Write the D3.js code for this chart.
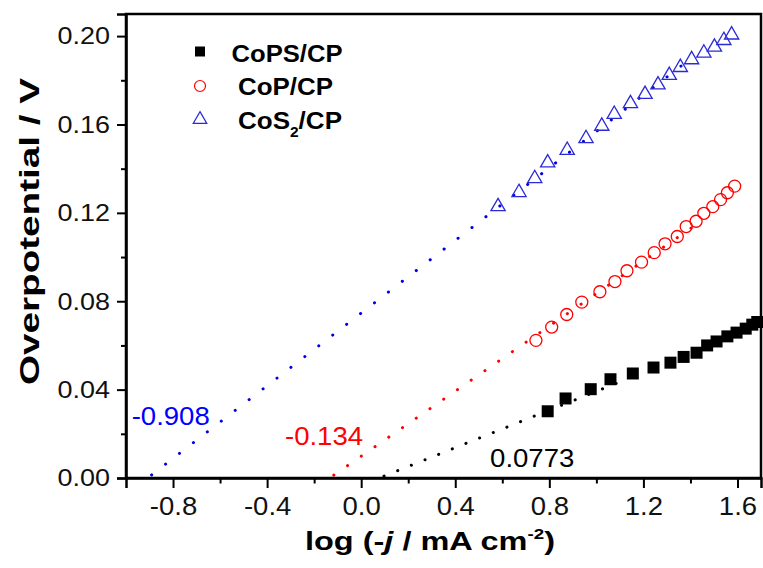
<!DOCTYPE html>
<html>
<head>
<meta charset="utf-8">
<script src="https://cdn.jsdelivr.net/npm/d3@7"></script>
<style>
  body { margin: 0; background: #fff; }
  svg { display: block; font-family: "Liberation Sans", Arial, sans-serif; }
</style>
</head>
<body>
<svg id="chart" width="763" height="568"></svg>
<script>
// tick labels
const xTicks = [-0.8, -0.4, 0.0, 0.4, 0.8, 1.2, 1.6];
const xMinor = [-0.6, -0.2, 0.2, 0.6, 1.0, 1.4];
const yTicks = [0.00, 0.04, 0.08, 0.12, 0.16, 0.20];
const yMinor = [0.02, 0.06, 0.10, 0.14, 0.18];

// CoPS/CP (black squares)
const copsX = [0.793, 0.869, 0.976, 1.060, 1.155, 1.243, 1.315, 1.371, 1.426, 1.471, 1.511, 1.557, 1.596, 1.635, 1.663, 1.684];
const copsY = [0.0302, 0.0360, 0.0402, 0.0447, 0.0473, 0.0500, 0.0522, 0.0548, 0.0567, 0.0600, 0.0618, 0.0641, 0.0658, 0.0676, 0.0694, 0.0706];

// CoP/CP (red circles)
const copX = [0.743, 0.810, 0.874, 0.938, 1.015, 1.079, 1.130, 1.192, 1.246, 1.292, 1.344, 1.382, 1.424, 1.457, 1.495, 1.528, 1.557, 1.588];
const copY = [0.0623, 0.0683, 0.0740, 0.0796, 0.0843, 0.0889, 0.0938, 0.0977, 0.1020, 0.1060, 0.1093, 0.1138, 0.1162, 0.1198, 0.1228, 0.1260, 0.1291, 0.1321];

// CoS2/CP (blue triangles)
const cos2X = [0.582, 0.671, 0.738, 0.793, 0.876, 0.956, 1.023, 1.076, 1.145, 1.207, 1.262, 1.310, 1.357, 1.405, 1.457, 1.502, 1.542, 1.575];
const cos2Y = [0.1233, 0.1297, 0.1360, 0.1431, 0.1488, 0.1541, 0.1597, 0.1651, 0.1699, 0.1741, 0.1784, 0.1827, 0.1863, 0.1898, 0.1928, 0.1955, 0.1985, 0.2010];

// linear fits: x-intercept, slope, last x
const fitIntercept = [0.0773, -0.134, -0.908];
const fitSlope = [0.0425, 0.0736, 0.0822];
const fitEnd = [1.12, 1.41, 1.41];
const fitLabels = ["0.0773", "-0.134", "-0.908"];

const colors = ["#000000", "#ff0000", "#2a2ad8"];
const lineColors = ["#000000", "#ff0000", "#0000e6"];

const svg = d3.select("#chart");
const plotLeft = 126, plotRight = 761, plotTop = 14, plotBottom = 478;

const x = d3.scaleLinear().domain([-1.0, 1.7]).range([plotLeft, plotRight]);
const y = d3.scaleLinear().domain([0, 0.21]).range([plotBottom, plotTop]);

// stretch text horizontally like the original
function stretch(sel, k) {
    sel.each(function () {
        const w = this.getComputedTextLength();
        d3.select(this).attr("textLength", w * k).attr("lengthAdjust", "spacingAndGlyphs");
    });
}

// frame
svg.append("rect")
    .attr("x", plotLeft).attr("y", plotTop)
    .attr("width", plotRight - plotLeft).attr("height", plotBottom - plotTop)
    .attr("fill", "none").attr("stroke", "#000").attr("stroke-width", 2.5);

// minor ticks
svg.append("g")
    .attr("transform", `translate(0,${plotBottom})`)
    .call(d3.axisBottom(x).tickValues(xMinor).tickSize(5.5).tickFormat(""))
    .call(g => g.select(".domain").remove())
    .selectAll("line").attr("stroke-width", 2);
svg.append("g")
    .attr("transform", `translate(${plotLeft},0)`)
    .call(d3.axisLeft(y).tickValues(yMinor).tickSize(5).tickFormat(""))
    .call(g => g.select(".domain").remove())
    .selectAll("line").attr("stroke-width", 2);

// major ticks
const xAxis = svg.append("g")
    .attr("transform", `translate(0,${plotBottom})`)
    .call(d3.axisBottom(x).tickValues(xTicks).tickSize(10).tickPadding(9)
        .tickFormat(d => d3.format(".1f")(d).replace("\u2212", "-")));
xAxis.select(".domain").attr("stroke-width", 2.5);
xAxis.selectAll("line").attr("stroke-width", 2);
xAxis.selectAll("text").attr("font-size", 25).attr("font-family", "Liberation Sans").attr("fill", "#111").call(stretch, 1.1);

const yAxis = svg.append("g")
    .attr("transform", `translate(${plotLeft},0)`)
    .call(d3.axisLeft(y).tickValues(yTicks).tickSize(9).tickPadding(7)
        .tickFormat(d3.format(".2f")));
yAxis.select(".domain").attr("stroke-width", 2.5);
yAxis.selectAll("line").attr("stroke-width", 2);
yAxis.selectAll("text").attr("font-size", 24.5).attr("font-family", "Liberation Sans").attr("fill", "#111").call(stretch, 1.1);

// axis titles
const xTitle = svg.append("text")
    .attr("x", 430).attr("y", 550)
    .attr("text-anchor", "middle")
    .attr("font-size", 26).attr("font-weight", "bold");
xTitle.append("tspan").text("log (-");
xTitle.append("tspan").attr("font-style", "italic").text("j");
xTitle.append("tspan").text(" / mA cm");
xTitle.append("tspan").attr("font-size", 15).attr("dy", -11).text("-2");
xTitle.append("tspan").attr("dy", 11).text(")");
xTitle.attr("textLength", 250).attr("lengthAdjust", "spacingAndGlyphs");

svg.append("text")
    .attr("transform", "translate(39,231.5) rotate(-90)")
    .attr("text-anchor", "middle")
    .attr("font-size", 27).attr("font-weight", "bold")
    .attr("textLength", 307).attr("lengthAdjust", "spacingAndGlyphs")
    .text("Overpotential / V");

// fit lines (dotted), first dot a few px above the axis
const dotGap = [14.7, 16.7, 17.6];
fitIntercept.forEach((x0, i) => {
    svg.append("line")
        .attr("x1", x(x0)).attr("y1", y(0))
        .attr("x2", x(fitEnd[i])).attr("y2", y(fitSlope[i] * (fitEnd[i] - x0)))
        .attr("stroke", lineColors[i])
        .attr("stroke-width", 3)
        .attr("stroke-linecap", "round")
        .attr("stroke-dasharray", `0.1 ${dotGap[i] - 0.1}`)
        .attr("stroke-dashoffset", dotGap[i] - 5);
});

// data markers
const squares = d3.symbol().type(d3.symbolSquare).size(144);
const triangle = d3.symbol().type(d3.symbolTriangle).size(88);

svg.append("g").selectAll("path")
    .data(d3.zip(copsX, copsY))
    .join("path")
    .attr("transform", d => `translate(${x(d[0])},${y(d[1])})`)
    .attr("d", squares)
    .attr("fill", colors[0]);

svg.append("g").selectAll("circle")
    .data(d3.zip(copX, copY))
    .join("circle")
    .attr("cx", d => x(d[0])).attr("cy", d => y(d[1]))
    .attr("r", 6)
    .attr("fill", "none").attr("stroke", colors[1]).attr("stroke-width", 1.3);

svg.append("g").selectAll("path")
    .data(d3.zip(cos2X, cos2Y))
    .join("path")
    .attr("transform", d => `translate(${x(d[0])},${y(d[1]) + 1})`)
    .attr("d", triangle)
    .attr("fill", "none").attr("stroke", colors[2]).attr("stroke-width", 1.3);

// intercept labels (left edge, baseline in data units)
const labelPos = [[0.548, 0.0051, "#000"], [-0.324, 0.0149, "#ff0000"], [-0.976, 0.0240, "#0000ff"]];
fitLabels.forEach((t, i) => {
    const lbl = svg.append("text")
        .attr("x", x(labelPos[i][0]))
        .attr("y", y(labelPos[i][1]))
        .attr("font-size", 25.5)
        .attr("fill", labelPos[i][2])
        .text(t);
    stretch(lbl, 1.08);
});

// legend
const legend = svg.append("g");
legend.append("path")
    .attr("transform", "translate(200,51.5)")
    .attr("d", d3.symbol().type(d3.symbolSquare).size(100))
    .attr("fill", colors[0]);
legend.append("circle")
    .attr("cx", 200).attr("cy", 86).attr("r", 5.5)
    .attr("fill", "none").attr("stroke", colors[1]).attr("stroke-width", 1.2);
legend.append("path")
    .attr("transform", "translate(200,119.5)")
    .attr("d", d3.symbol().type(d3.symbolTriangle).size(80))
    .attr("fill", "none").attr("stroke", colors[2]).attr("stroke-width", 1.2);

legend.append("text")
    .attr("x", 231.5).attr("y", 61.5)
    .attr("font-size", 23.5).attr("font-weight", "bold")
    .attr("textLength", 111).attr("lengthAdjust", "spacingAndGlyphs")
    .text("CoPS/CP");
legend.append("text")
    .attr("x", 238).attr("y", 95)
    .attr("font-size", 23.5).attr("font-weight", "bold")
    .attr("textLength", 95).attr("lengthAdjust", "spacingAndGlyphs")
    .text("CoP/CP");
const l3 = legend.append("text")
    .attr("x", 238).attr("y", 128.5)
    .attr("font-size", 23.5).attr("font-weight", "bold");
l3.append("tspan").text("CoS");
l3.append("tspan").attr("font-size", 14).attr("dy", 8).text("2");
l3.append("tspan").attr("dy", -8).text("/CP");
l3.attr("textLength", 104).attr("lengthAdjust", "spacingAndGlyphs");
</script>
</body>
</html>
